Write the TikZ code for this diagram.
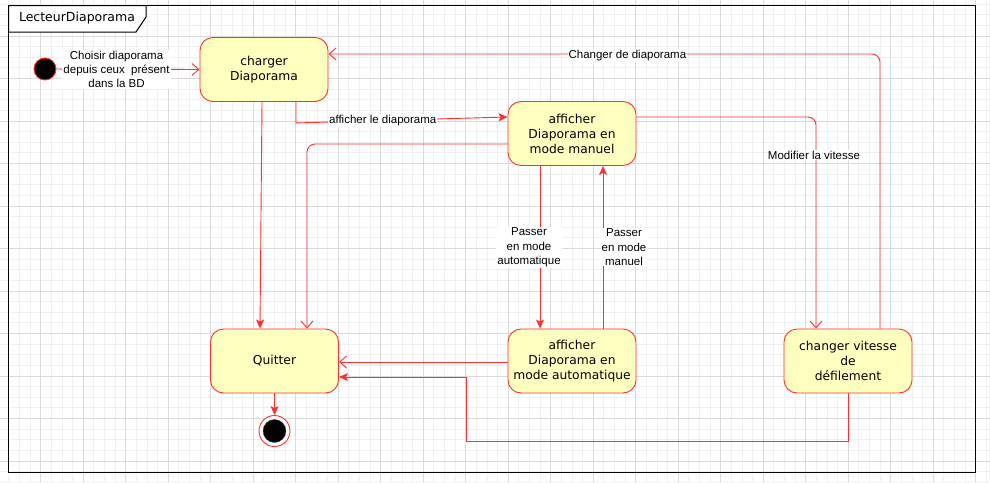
\documentclass[tikz,border=0pt]{standalone}
\usepackage{fontspec}
\setmainfont{DejaVu Sans}
\newfontfamily\labfont{Liberation Sans}
\usetikzlibrary{arrows.meta}
\definecolor{stroke}{HTML}{FF3030}
\definecolor{fillY}{HTML}{FFFFC0}
\definecolor{gridminor}{HTML}{F0F0F0}
\definecolor{gridmajor}{HTML}{DADADA}
\tikzset{
  statebox/.style={draw=stroke, fill=fillY, rounded corners=13pt, minimum width=128pt,
    minimum height=64pt, align=center, font=\fontsize{12.3}{15}\selectfont,
    line width=0.9pt, inner sep=0pt},
  lbl/.style={fill=white, font=\labfont\fontsize{11.5}{14.2}\selectfont, align=center, inner sep=1pt},
  edge/.style={draw=stroke, line width=0.9pt},
  openarr/.style={edge, -{Straight Barb[length=7pt,width=12pt]}},
  fillarr/.style={edge, -{Stealth[length=9pt,width=8pt,inset=2pt]}},
}
\begin{document}
\begin{tikzpicture}[x=1pt,y=-1pt]
\useasboundingbox (0,0) rectangle (990,482);
\fill[white] (0,0) rectangle (990,482);
% grid
\foreach \k in {-4,...,89} \draw[gridminor, line width=0.8pt] ({40.7+\k*10.625},0) -- ({40.7+\k*10.625},482);
\foreach \k in {-3,...,42} \draw[gridminor, line width=0.8pt] (0,{36+\k*10.625}) -- (990,{36+\k*10.625});
\foreach \k in {-1,...,22} \draw[gridmajor, line width=0.8pt] ({40.7+\k*42.5},0) -- ({40.7+\k*42.5},482);
\foreach \k in {0,...,10} \draw[gridmajor, line width=0.8pt] (0,{36+\k*42.5}) -- (990,{36+\k*42.5});
% frame
\draw[black, line width=1pt] (8.5,5.5) rectangle (975.5,472.5);
\draw[black, fill=white, line width=1pt] (8.5,5.5) -- (146,5.5) -- (146,17) -- (136,32) -- (8.5,32) -- cycle;
\node[font=\fontsize{12.5}{15}\selectfont, inner sep=0pt] (title) at (77,18.5) {LecteurDiaporama};
% states
\node[statebox] (charger) at (264,69.5) {charger\\Diaporama};
\node[statebox] (manuel) at (572,133.5) {afficher\\Diaporama en\\mode manuel};
\node[statebox] (quitter) at (274.5,361) {Quitter};
\node[statebox] (auto) at (572,361) {afficher\\Diaporama en\\mode automatique};
\node[statebox] (vitesse) at (848,361) {changer vitesse\\de\\d\'efilement};
\node[circle, fill=black, draw=stroke, line width=0.9pt, minimum size=22pt, inner sep=0pt] (init) at (45,69) {};
\node[circle, fill=white, draw=stroke, line width=0.9pt, minimum size=31pt, inner sep=0pt] (final) at (274.5,431) {};
\node[circle, fill=black, draw=black!70, minimum size=23pt, inner sep=0pt] (finalin) at (final.center) {};
% edges
\draw[openarr] (init) -- node[lbl, pos=0.42] {Choisir diaporama\\depuis ceux\ \ pr\'esent\\dans la BD} (charger.west);
\draw[fillarr] ([xshift=-2pt]charger.south) -- ([xshift=-14.5pt]quitter.north);
\draw[fillarr] ([xshift=32pt]charger.south) -- ++(0,21) -- node[lbl, pos=0.41] {afficher le diaporama} ([yshift=16.5pt]manuel.west);
\draw[openarr, rounded corners=8pt] ([yshift=-10.5pt]manuel.west) -| ([xshift=32.5pt]quitter.north);
\draw[fillarr] ([xshift=-32pt]manuel.south) -- node[lbl, xshift=-11pt] {Passer\\en mode\\automatique} ([xshift=-32pt]auto.north);
\draw[fillarr] ([xshift=31pt]auto.north) -- node[lbl, xshift=21pt] {Passer\\en mode\\manuel} ([xshift=31pt]manuel.south);
\draw[openarr, rounded corners=8pt] ([yshift=16.5pt]manuel.east) -| node[lbl, pos=0.59, xshift=-2pt] {Modifier la vitesse} ([xshift=-32pt]vitesse.north);
\draw[openarr, rounded corners=8pt] ([xshift=32pt]vitesse.north) |- node[lbl, pos=0.729, yshift=-2pt] {Changer de diaporama} ([yshift=15.5pt]charger.east);
\draw[openarr] ([yshift=-1pt]auto.west) -- ([yshift=-1pt]quitter.east);
\draw[fillarr] (vitesse.south) -- ++(0,48) -- ++(-382,0) |- ([yshift=-16pt]quitter.east);
\draw[fillarr] (quitter.south) -- (final);
\end{tikzpicture}
\end{document}
